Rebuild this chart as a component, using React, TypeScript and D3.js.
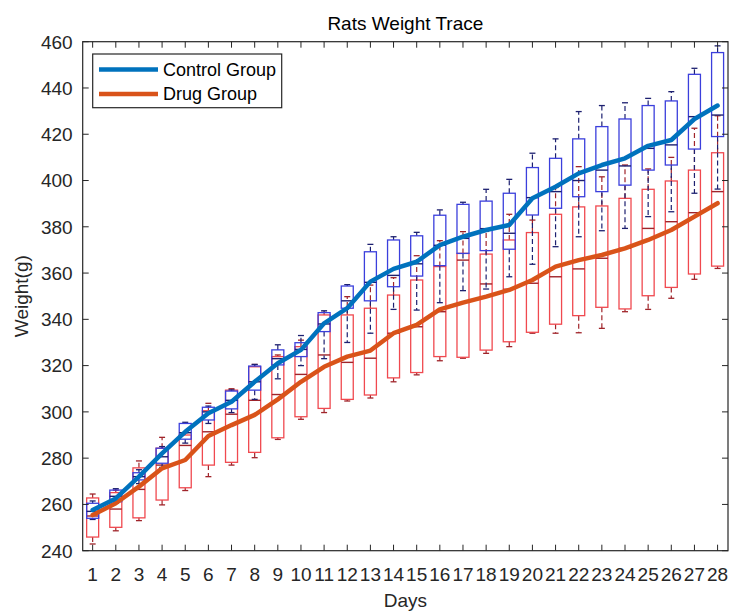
import * as d3 from "d3";

const days = [1, 2, 3, 4, 5, 6, 7, 8, 9, 10, 11, 12, 13, 14, 15, 16, 17, 18, 19, 20, 21, 22, 23, 24, 25, 26, 27, 28];
const yTicks = [240, 260, 280, 300, 320, 340, 360, 380, 400, 420, 440, 460];

// box statistics (g)
const controlLow = [253.5, 260.5, 269, 276, 286.5, 295, 299.7, 305.4, 314.3, 320, 323, 330, 334, 344.3, 344, 347.2, 352.4, 353.1, 358.4, 363.8, 371.4, 375.7, 378.3, 379.3, 384.4, 386.5, 394.5, 396.3];
const controlQ1 = [254, 261.2, 270.6, 277.8, 288.2, 296.5, 301.3, 309.4, 320.3, 323.9, 334.7, 344.8, 348, 354.1, 358.7, 363.2, 368.5, 369.7, 370.3, 385.1, 388, 393, 395.2, 398, 404.5, 406.7, 413.6, 419];
const controlMed = [257, 263.5, 272, 280.6, 291, 300, 305, 313, 323, 327, 338, 348, 356, 359, 364, 372, 375, 379.2, 377.2, 392.6, 395.2, 400, 404.5, 406.3, 413.9, 415.4, 427.6, 428.3];
const controlQ3 = [260.5, 266.2, 273.7, 284.3, 295, 302, 309, 319.8, 326.8, 329.9, 342.9, 354.4, 369.2, 374.3, 376.1, 385, 389.7, 391.1, 394.5, 405.6, 409.6, 418, 423.3, 426.6, 432.4, 434.4, 445.9, 455.3];
const controlHigh = [261.5, 266.8, 275, 285, 295.5, 302.5, 309.5, 320.5, 329, 333, 343.7, 355, 372.4, 375.7, 377.6, 387.3, 390.6, 396.2, 400.5, 411.8, 418, 429.8, 432.4, 433.6, 435.5, 438.4, 448.5, 458.2];

const drugLow = [242.9, 248.6, 253, 259.8, 266, 272, 277, 280.2, 288.1, 296.8, 299.7, 304.7, 306, 313, 316, 322.1, 323.2, 325.3, 328.2, 334, 334, 334.2, 336.1, 343.3, 344.3, 349.1, 357.3, 362];
const drugQ1 = [245.9, 250.1, 254.2, 261.9, 267.2, 277, 278.2, 282.5, 288.8, 297.9, 301.5, 305.4, 307.3, 314.7, 317, 323.9, 323.6, 326.7, 330.3, 334.4, 337.9, 341.6, 345.2, 344.5, 350.2, 353.8, 359.6, 363];
const drugMed = [255, 258, 266.5, 277, 285.5, 291.4, 299, 305, 307.5, 316.2, 324.6, 321.4, 323.2, 334, 336.8, 343.3, 365.6, 355.3, 353, 355.6, 358.4, 361.8, 366.4, 370.7, 379.3, 382.2, 386.1, 395.2];
const drugQ3 = [262.8, 265.1, 275.8, 284.3, 290, 300.5, 309.4, 319.5, 323.9, 328.2, 341.9, 341.9, 344.8, 350.5, 357, 362.8, 368.5, 368.2, 374.3, 377.5, 385.4, 388.6, 389, 392.3, 396.2, 399.8, 404.5, 412];
const drugHigh = [264.5, 266.2, 278.8, 289, 291, 303.7, 310, 320.5, 324.6, 331, 343, 349.8, 354.8, 358, 367.5, 374, 377.9, 378, 385.4, 382.9, 397, 406, 401.6, 406.7, 405, 410, 422.6, 428];

// mean traces
const controlMean = [257.6, 262.6, 272, 282.1, 291.4, 299.4, 304.4, 313, 321, 326.8, 338.3, 344.8, 356.3, 361.8, 364.9, 372.1, 375.7, 378.6, 380.8, 392.3, 397.3, 403.1, 406.7, 409.6, 415, 417.5, 426.6, 432.4];
const drugMean = [255.4, 260.5, 267.7, 275.6, 279.2, 289.6, 294.3, 298.7, 305.4, 313, 319.5, 323.9, 326.5, 334, 337.6, 344.3, 347.2, 349.8, 352.7, 357, 362.8, 365.6, 367.8, 370.7, 374.3, 378.6, 384.4, 390.2];

const W = 729;
const H = 612;
const left = 82.7, right = 728, top = 41.7, bottom = 550.7;
const font = "'Liberation Sans', Arial, Helvetica, sans-serif";
const axisColor = "#262626";

function Boxes({ low, q1, med, q3, high, box, mid, x, y }: any) {
  const bw = 12;
  const cw = 6;
  return (
    <g>
      {days.map((d, i) => {
        const cx = x(d);
        return (
          <g key={d}>
            <line x1={cx} x2={cx} y1={y(q3[i])} y2={y(high[i])} stroke={mid} strokeWidth={1.2} strokeDasharray="5,3" />
            <line x1={cx} x2={cx} y1={y(q1[i])} y2={y(low[i])} stroke={mid} strokeWidth={1.2} strokeDasharray="5,3" />
            <line x1={cx - cw / 2} x2={cx + cw / 2} y1={y(high[i])} y2={y(high[i])} stroke={mid} strokeWidth={1.3} />
            <line x1={cx - cw / 2} x2={cx + cw / 2} y1={y(low[i])} y2={y(low[i])} stroke={mid} strokeWidth={1.3} />
            <rect x={cx - bw / 2} y={y(q3[i])} width={bw} height={y(q1[i]) - y(q3[i])} fill="none" stroke={box} strokeWidth={1.3} />
            <line x1={cx - bw / 2} x2={cx + bw / 2} y1={y(med[i])} y2={y(med[i])} stroke={mid} strokeWidth={1.4} />
          </g>
        );
      })}
    </g>
  );
}

export default function App() {
  const x = d3.scaleLinear().domain([0.57, 28.45]).range([left, right]);
  const y = d3.scaleLinear().domain([240, 460]).range([bottom, top]);
  const line = d3
    .line<number>()
    .x((_, i) => x(days[i]))
    .y((v) => y(v));
  const tl = 6;

  return (
    <svg width={W} height={H} style={{ position: "absolute", left: 0, top: 0, background: "#fff" }} fontFamily={font}>
      <rect width={W} height={H} fill="#fff" />
      <text x={(left + right) / 2} y={30} textAnchor="middle" fontSize={19} fill="#000">
        Rats Weight Trace
      </text>

      <Boxes low={drugLow} q1={drugQ1} med={drugMed} q3={drugQ3} high={drugHigh} box="#f0494f" mid="#a0242a" x={x} y={y} />
      <Boxes low={controlLow} q1={controlQ1} med={controlMed} q3={controlQ3} high={controlHigh} box="#3b3fdc" mid="#1d2070" x={x} y={y} />

      <path d={line(drugMean) || ""} fill="none" stroke="#D95319" strokeWidth={4.5} strokeLinejoin="round" strokeLinecap="round" />
      <path d={line(controlMean) || ""} fill="none" stroke="#0072BD" strokeWidth={4.5} strokeLinejoin="round" strokeLinecap="round" />

      {/* axes box */}
      <rect x={left} y={top} width={right - left} height={bottom - top} fill="none" stroke={axisColor} strokeWidth={1.2} />
      {days.map((d) => (
        <g key={d}>
          <line x1={x(d)} x2={x(d)} y1={bottom} y2={bottom - tl} stroke={axisColor} />
          <line x1={x(d)} x2={x(d)} y1={top} y2={top + tl} stroke={axisColor} />
          <text x={x(d)} y={581} textAnchor="middle" fontSize={19} fill={axisColor}>
            {d}
          </text>
        </g>
      ))}
      {yTicks.map((t) => (
        <g key={t}>
          <line x1={left} x2={left + tl} y1={y(t)} y2={y(t)} stroke={axisColor} />
          <line x1={right} x2={right - tl} y1={y(t)} y2={y(t)} stroke={axisColor} />
          <text x={left - 10} y={y(t)} dy="0.36em" textAnchor="end" fontSize={19} fill={axisColor}>
            {t}
          </text>
        </g>
      ))}
      <text x={(left + right) / 2} y={607} textAnchor="middle" fontSize={19} fill={axisColor}>
        Days
      </text>
      <text transform={`translate(28,${(top + bottom) / 2}) rotate(-90)`} textAnchor="middle" fontSize={19} fill={axisColor}>
        Weight(g)
      </text>

      {/* legend */}
      <g>
        <rect x={92.7} y={54} width={189} height={53.7} fill="#fff" stroke={axisColor} strokeWidth={1.2} />
        <line x1={99} x2={158} y1={69.5} y2={69.5} stroke="#0072BD" strokeWidth={4.5} />
        <line x1={99} x2={158} y1={94} y2={94} stroke="#D95319" strokeWidth={4.5} />
        <text x={163} y={70} dy="0.36em" fontSize={18} fill="#000">
          Control Group
        </text>
        <text x={163} y={94} dy="0.36em" fontSize={18} fill="#000">
          Drug Group
        </text>
      </g>
    </svg>
  );
}
